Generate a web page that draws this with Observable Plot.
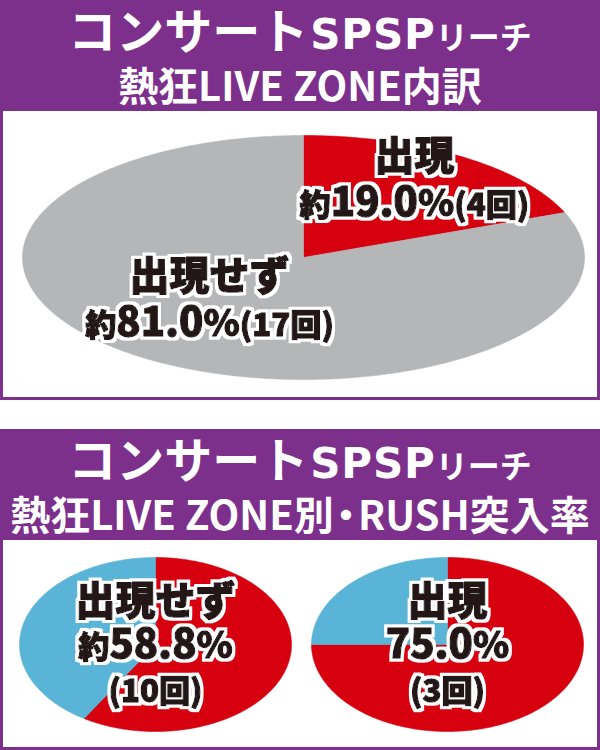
<!DOCTYPE html>
<html><head><meta charset="utf-8">
<script src="https://cdn.jsdelivr.net/npm/d3@7"></script>
<script src="https://cdn.jsdelivr.net/npm/@observablehq/plot@0.6"></script>
<style>
body{margin:0;background:#fff;width:600px;font-family:"Noto Sans CJK JP","Noto Sans",sans-serif;}
.panel{background:#7d2f8c;padding:0 3px 3px 3px;}
.head{height:111px;color:#fff;text-align:center;font-weight:700;}
.l1{font-size:48px;line-height:56px;padding-top:0;white-space:nowrap}
.l1 .sp{font-family:"DejaVu Sans",sans-serif;font-size:42px;letter-spacing:0.02em;margin-left:2px}
.l1 .sm{font-size:32px;}
.l2{font-size:40px;line-height:42px;white-space:nowrap}
.l2 .dot{font-feature-settings:"halt";margin:0 2px}
.box{background:#fff;display:flex}
.gap{height:29px}
</style></head>
<body>
<div class="panel"><div class="head" id="h1"></div><div class="box" id="b1"></div></div>
<div class="gap"></div>
<div class="panel"><div class="head" id="h2"></div><div class="box" id="b2"></div></div>
<script>
// ---- data ----
const titleMain = ["コンサート", "SPSP", "リーチ"];
const subtitles = ["熱狂LIVE ZONE内訳", "熱狂LIVE ZONE別・RUSH突入率"];

const breakdownNames = ["出現", "出現せず"];
const breakdownPct = [19.0, 81.0];
const breakdownCount = [4, 17];

const rushGroups = ["出現せず", "出現"];
const rushPct = [58.8, 75.0];
const rushCount = [10, 3];
const rushApprox = [true, false];

const RED = "#d7000f", GRAY = "#b5b6b8", BLUE = "#5ab4d7", INK = "#231815";
const NS = "http://www.w3.org/2000/svg";

// ---- headers ----
function header(id, sub) {
  const h = document.getElementById(id);
  const l1 = document.createElement("div"); l1.className = "l1";
  const a = document.createElement("span"); a.textContent = titleMain[0];
  const b = document.createElement("span"); b.className = "sp"; b.textContent = titleMain[1];
  const c = document.createElement("span"); c.className = "sm"; c.textContent = titleMain[2];
  l1.append(a, b, c);
  const l2 = document.createElement("div"); l2.className = "l2";
  sub.split(/(・)/).forEach(part => {
    const s = document.createElement("span");
    if (part === "・") s.className = "dot";
    s.textContent = part;
    l2.append(s);
  });
  h.append(l1, l2);
}
header("h1", subtitles[0]);
header("h2", subtitles[1]);

// ---- pie geometry from values ----
function wedges(values, keys) {
  const arcs = d3.pie().sort(null)(values);
  const pts = [];
  arcs.forEach((a, i) => {
    const k = keys[i];
    pts.push({k, x: 0, y: 0});
    const n = Math.max(2, Math.ceil((a.endAngle - a.startAngle) / 0.01));
    for (let j = 0; j <= n; j++) {
      const t = a.startAngle + (a.endAngle - a.startAngle) * j / n;
      pts.push({k, x: Math.sin(t), y: Math.cos(t)});
    }
    pts.push({k, x: 0, y: 0});
  });
  return {arcs, pts};
}

function styleRuns(el) {
  const s = el.textContent; el.textContent = "";
  const re = /(約)|(%)|(\([^)]*\))|([^約%(]+)/g;
  let m;
  while ((m = re.exec(s))) {
    const t = document.createElementNS(NS, "tspan");
    t.textContent = m[0];
    if (m[1] || m[3]) t.style.fontSize = "0.78em";
    else if (m[2]) t.style.fontSize = "0.92em";
    el.appendChild(t);
  }
}
let haloId = 0;
function postText(svg) {
  const id = "halo" + (haloId++);
  const defs = document.createElementNS(NS, "defs");
  defs.innerHTML = `<filter id="${id}" x="-20%" y="-30%" width="140%" height="160%">
    <feMorphology in="SourceAlpha" operator="dilate" radius="3.2" result="d"/>
    <feFlood flood-color="white"/>
    <feComposite in2="d" operator="in" result="w"/>
    <feMerge><feMergeNode in="w"/><feMergeNode in="SourceGraphic"/></feMerge>
  </filter>`;
  svg.insertBefore(defs, svg.firstChild);
  svg.querySelectorAll("text").forEach(el => {
    el.setAttribute("filter", `url(#${id})`);
    const spans = el.querySelectorAll("tspan");
    if (spans.length) spans.forEach(styleRuns); else styleRuns(el);
  });
}

const labelStyle = {fontSize: 40, fontWeight: 900, fill: INK, stroke: INK, strokeWidth: 1.3,
  lineHeight: 1.15, fontFamily: "Noto Sans CJK JP", textAnchor: "middle"};

// ---- top chart ----
{
  const {arcs, pts} = wedges(breakdownPct, breakdownNames);
  const mid = a => (a.startAngle + a.endAngle) / 2;
  const lab = i => `${breakdownNames[i]}\n約${breakdownPct[i].toFixed(1)}%(${breakdownCount[i]}回)`;
  const svg = Plot.plot({
    width: 594, height: 286, margin: 0,
    x: {domain: [-1, 1], range: [19, 581], axis: null},
    y: {domain: [-1, 1], range: [268, 24], axis: null},
    color: {domain: breakdownNames, range: [RED, GRAY]},
    style: {background: "white", overflow: "visible"},
    marks: [
      Plot.line(pts, {x: "x", y: "y", z: "k", fill: "k", stroke: "k", strokeWidth: 0.6, curve: "linear"}),
      Plot.text([arcs[0]], {x: a => 0.5 * Math.sin(mid(a)), y: a => 0.5 * Math.cos(mid(a)), text: a => lab(a.index), dx: 32, dy: -29, ...labelStyle}),
      Plot.text([arcs[1]], {x: a => 0.5 * Math.sin(mid(a)), y: a => 0.5 * Math.cos(mid(a)), text: a => lab(a.index), dx: -15, dy: -10, ...labelStyle})
    ]
  });
  postText(svg);
  document.getElementById("b1").append(svg);
}

// ---- bottom charts ----
const ranges = [[16, 288], [11, 283]];
rushGroups.forEach((g, i) => {
  const keys = ["RUSH", "other"];
  const {pts} = wedges([rushPct[i], 100 - rushPct[i]], keys);
  const text = `${g}\n${rushApprox[i] ? "約" : ""}${rushPct[i].toFixed(1)}%\n(${rushCount[i]}回)`;
  const svg = Plot.plot({
    width: 297, height: 207, margin: 0,
    x: {domain: [-1, 1], range: ranges[i], axis: null},
    y: {domain: [-1, 1], range: [191, 17], axis: null},
    color: {domain: keys, range: [RED, BLUE]},
    style: {background: "white", overflow: "visible"},
    marks: [
      Plot.line(pts, {x: "x", y: "y", z: "k", fill: "k", stroke: "k", strokeWidth: 0.6, curve: "linear"}),
      Plot.text([{x: 0, y: 0}], {x: "x", y: "y", text: () => text, ...labelStyle, lineHeight: 1.08})
    ]
  });
  postText(svg);
  document.getElementById("b2").append(svg);
});
</script>
</body></html>
